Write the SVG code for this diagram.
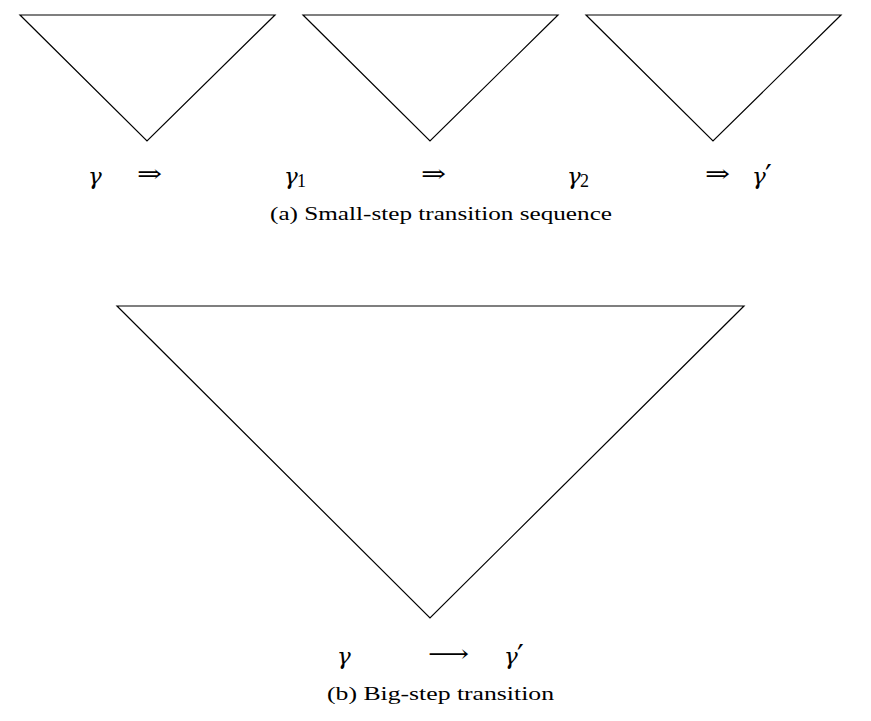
<svg xmlns="http://www.w3.org/2000/svg" width="871" height="721" viewBox="0 0 871 721">
<style>
.tri{fill:none;stroke:#000;stroke-width:1.2;stroke-linejoin:miter}
.m{font-family:"DejaVu Serif","Liberation Serif",serif;font-style:italic;font-size:23px;fill:#000}
.pr{font-family:"DejaVu Serif","Liberation Serif",serif;font-size:30px;fill:#000}
.sub{font-family:"Liberation Serif","DejaVu Serif",serif;font-size:18px;fill:#000}
.ar{font-family:"DejaVu Serif","DejaVu Sans",serif;font-size:24px;fill:#000}
.cap{font-family:"Liberation Serif","DejaVu Serif",serif;font-size:19px;fill:#000}
</style>
<rect width="871" height="721" fill="#fff"/>
<g id="tri1"><polygon class="tri" points="20,15 275,15 147,141"/></g>
<g id="tri2"><polygon class="tri" points="303,15 558,15 430,141"/></g>
<g id="tri3"><polygon class="tri" points="586,15 841,15 713,141"/></g>
<g id="tri4"><polygon class="tri" points="117,306 744,306 430,618"/></g>
<g id="labels-a">
<text class="m" x="88" y="184">γ</text>
<text class="ar" x="137" y="182" textLength="25" lengthAdjust="spacingAndGlyphs">⇒</text>
<text class="m" x="284" y="184">γ</text><text class="sub" x="297" y="187">1</text>
<text class="ar" x="421" y="182" textLength="25" lengthAdjust="spacingAndGlyphs">⇒</text>
<text class="m" x="567" y="184">γ</text><text class="sub" x="580" y="187">2</text>
<text class="ar" x="705" y="182" textLength="25" lengthAdjust="spacingAndGlyphs">⇒</text>
<text class="m" x="752" y="184">γ</text><text class="pr" x="765" y="186">′</text>
<text class="cap" x="270" y="220" textLength="342" lengthAdjust="spacingAndGlyphs">(a) Small-step transition sequence</text>
</g>
<g id="labels-b">
<text class="m" x="337" y="664">γ</text>
<text class="ar" x="428" y="662" textLength="41" lengthAdjust="spacingAndGlyphs">⟶</text>
<text class="m" x="504" y="664">γ</text><text class="pr" x="517" y="666">′</text>
<text class="cap" x="327" y="700" textLength="227" lengthAdjust="spacingAndGlyphs">(b) Big-step transition</text>
</g>
</svg>
